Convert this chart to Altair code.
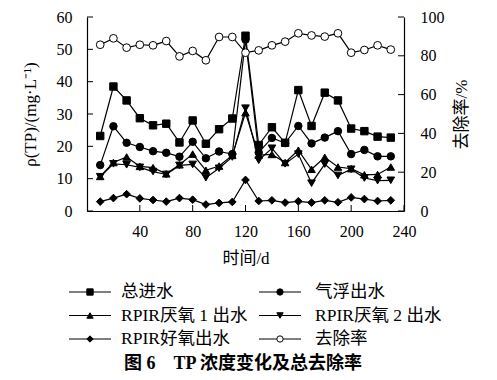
import altair as alt
import pandas as pd

# ---------------- data ----------------
days = [10, 20, 30, 40, 50, 60, 70, 80, 90, 100, 110, 120,
        130, 140, 150, 160, 170, 180, 190, 200, 210, 220, 230]
total_in = [23.2, 38.5, 34.2, 28.7, 26.5, 27.0, 21.2, 28.0, 20.8, 25.3, 28.6, 54.2,
            20.4, 25.9, 21.1, 37.4, 26.3, 36.6, 34.2, 25.5, 24.7, 23.0, 22.7]
flotation = [14.2, 26.2, 21.1, 19.8, 18.5, 18.0, 16.8, 21.4, 16.3, 18.4, 17.6, 53.0,
             18.1, 22.6, 21.0, 26.3, 20.9, 22.7, 24.7, 17.6, 18.9, 16.9, 16.9]
anaer1 = [10.7, 15.0, 16.7, 13.8, 13.4, 11.5, 14.3, 17.6, 12.6, 13.9, 17.2, 30.4,
          17.3, 17.5, 15.0, 18.8, 12.9, 16.6, 13.6, 13.1, 11.2, 11.3, 13.6]
anaer2 = [10.6, 14.6, 14.3, 13.5, 12.2, 11.3, 14.1, 14.4, 10.3, 13.2, 16.7, 31.8,
          15.7, 19.4, 14.6, 17.6, 8.6, 14.5, 11.0, 12.9, 10.2, 9.4, 9.5]
aerobic = [2.9, 4.0, 5.2, 3.9, 3.4, 2.9, 4.0, 3.5, 2.0, 2.5, 2.8, 9.6,
           3.1, 3.3, 2.6, 3.0, 2.6, 3.3, 2.7, 4.2, 3.7, 3.1, 3.3]
removal = [85.7, 89.0, 84.2, 85.7, 85.4, 87.6, 79.7, 82.5, 77.7, 89.7, 89.7, 81.6,
           82.8, 85.4, 87.3, 91.6, 90.5, 89.9, 91.6, 81.6, 83.0, 85.4, 83.2]

names = ["总进水", "气浮出水", "RPIR厌氧 1 出水", "RPIR厌氧 2 出水", "RPIR好氧出水", "去除率"]
shapes = ["square", "circle", "triangle-up", "triangle-down", "diamond", "circle"]
sizes = [55, 60, 75, 75, 80, 95]
fills = ["black", "black", "black", "black", "black", "white"]

left_ticks = [0, 10, 20, 30, 40, 50, 60]
right_ticks = [0, 20, 40, 60, 80, 100]
x_ticks = [40, 80, 120, 160, 200, 240]

caption = "图 6\u3000TP 浓度变化及总去除率"
x_title = "时间/d"
left_title = "ρ(TP)/(mg·L⁻¹)"
right_title = "去除率/%"

SERIF = "Liberation Serif, Noto Sans CJK SC"
W, H = 317, 194
LW, LH = 317, 107

# ---------------- tables ----------------
rows = []
for name, vals in zip(names[:5], [total_in, flotation, anaer1, anaer2, aerobic]):
    for d, v in zip(days, vals):
        rows.append({"day": d, "series": name, "value": v})
left_df = pd.DataFrame(rows)
rem_df = pd.DataFrame({"day": days, "value": removal, "series": names[5]})

x_axis = alt.Axis(values=x_ticks, title=x_title, ticks=False, domainColor="black",
                  domainWidth=1.2, labelFont=SERIF, labelFontSize=16, labelColor="black",
                  labelPadding=12, titleFont=SERIF, titleFontSize=17, titleFontWeight="normal",
                  titleColor="black", titlePadding=11, grid=False, labelFlush=False)
x_enc = alt.X("day:Q", scale=alt.Scale(domain=[0, 240], nice=False), axis=x_axis)

left_axis = alt.Axis(values=left_ticks, title=left_title, orient="left", ticks=False,
                     domainColor="black", domainWidth=1.2, labelFont=SERIF, labelFontSize=16,
                     labelColor="black", labelPadding=15, titleFont=SERIF, titleFontSize=17,
                     titleFontWeight="normal", titleColor="black", titlePadding=17, grid=False)
right_axis = alt.Axis(values=right_ticks, title=right_title, orient="right", ticks=False,
                      domainColor="black", domainWidth=1.2, labelFont=SERIF, labelFontSize=16,
                      labelColor="black", labelPadding=16, titleFont=SERIF, titleFontSize=17,
                      titleFontWeight="normal", titleColor="black", titlePadding=9,
                      titleAngle=270, titleBaseline="top", grid=False)

y_left = alt.Y("value:Q", scale=alt.Scale(domain=[0, 60], nice=False), axis=left_axis)
y_right = alt.Y("value:Q", scale=alt.Scale(domain=[0, 100], nice=False), axis=right_axis)

shape_scale = alt.Scale(domain=names, range=shapes)
size_scale = alt.Scale(domain=names, range=sizes)
fill_scale = alt.Scale(domain=names, range=fills)

left_lines = alt.Chart(left_df).mark_line(color="black", strokeWidth=1.2).encode(
    x=x_enc, y=y_left, detail="series:N")
left_pts = alt.Chart(left_df).mark_point(stroke="black", strokeWidth=1, opacity=1).encode(
    x=x_enc, y=y_left,
    shape=alt.Shape("series:N", scale=shape_scale, legend=None),
    size=alt.Size("series:N", scale=size_scale, legend=None),
    fill=alt.Fill("series:N", scale=fill_scale, legend=None))
left_tick_marks = alt.Chart(pd.DataFrame({"value": left_ticks})).mark_rule(
    color="black", strokeWidth=1).encode(y=y_left, x=alt.value(0), x2=alt.value(6))
bottom_tick_marks = alt.Chart(pd.DataFrame({"day": x_ticks})).mark_rule(
    color="black", strokeWidth=1).encode(x=x_enc, y=alt.value(H - 6), y2=alt.value(H))

rem_line = alt.Chart(rem_df).mark_line(color="black", strokeWidth=1.2).encode(x=x_enc, y=y_right)
rem_pts = alt.Chart(rem_df).mark_point(stroke="black", strokeWidth=1, opacity=1).encode(
    x=x_enc, y=y_right,
    shape=alt.Shape("series:N", scale=shape_scale, legend=None),
    size=alt.Size("series:N", scale=size_scale, legend=None),
    fill=alt.Fill("series:N", scale=fill_scale, legend=None))
right_tick_marks = alt.Chart(pd.DataFrame({"value": right_ticks})).mark_rule(
    color="black", strokeWidth=1).encode(y=y_right, x=alt.value(W - 6), x2=alt.value(W))

left_group = alt.layer(left_lines, left_tick_marks, bottom_tick_marks, left_pts)
right_group = alt.layer(rem_line, right_tick_marks, rem_pts)
main = alt.layer(left_group, right_group).resolve_scale(
    y="independent", shape="shared", size="shared", fill="shared").properties(width=W, height=H)

# ---------------- manual legend (2 columns x 3 rows) ----------------
leg = pd.DataFrame({"series": names})
leg["col"] = [i % 2 for i in range(len(names))]
leg["row"] = [i // 2 for i in range(len(names))]
leg["xs"] = leg["col"] * 190 - 18
leg["xe"] = leg["xs"] + 42
leg["xm"] = leg["xs"] + 21
leg["xt"] = leg["xs"] + 52 + leg["col"] * 4
leg["yy"] = leg["row"] * 23.5 + 26

lx = alt.Scale(domain=[0, LW], nice=False)
ly = alt.Scale(domain=[0, LH], nice=False, reverse=True)

leg_lines = alt.Chart(leg).mark_rule(color="black", strokeWidth=1.2).encode(
    x=alt.X("xs:Q", scale=lx, axis=None), x2="xe:Q",
    y=alt.Y("yy:Q", scale=ly, axis=None))
leg_pts = alt.Chart(leg).mark_point(stroke="black", strokeWidth=1, opacity=1, size=40).encode(
    x=alt.X("xm:Q", scale=lx, axis=None), y=alt.Y("yy:Q", scale=ly, axis=None),
    shape=alt.Shape("series:N", scale=shape_scale, legend=None),
    fill=alt.Fill("series:N", scale=fill_scale, legend=None))
leg_text = alt.Chart(leg).mark_text(align="left", baseline="middle", font=SERIF,
                                    fontSize=17.5, color="black").encode(
    x=alt.X("xt:Q", scale=lx, axis=None), y=alt.Y("yy:Q", scale=ly, axis=None),
    text="series:N")
cap = alt.Chart(pd.DataFrame({"t": [caption], "x": [156], "y": [98]})).mark_text(
    align="center", baseline="middle", font=SERIF, fontSize=18, fontWeight="bold",
    color="black").encode(
    x=alt.X("x:Q", scale=lx, axis=None), y=alt.Y("y:Q", scale=ly, axis=None), text="t:N")

legend = alt.layer(leg_lines, leg_pts, leg_text, cap).properties(width=LW, height=LH)

chart = alt.vconcat(main, legend, spacing=0).properties(
    padding={"left": 13, "top": 1, "right": 5, "bottom": 0}
).configure_view(stroke=None)

chart.save("out.html", embed_options={"renderer": "svg", "actions": False})
